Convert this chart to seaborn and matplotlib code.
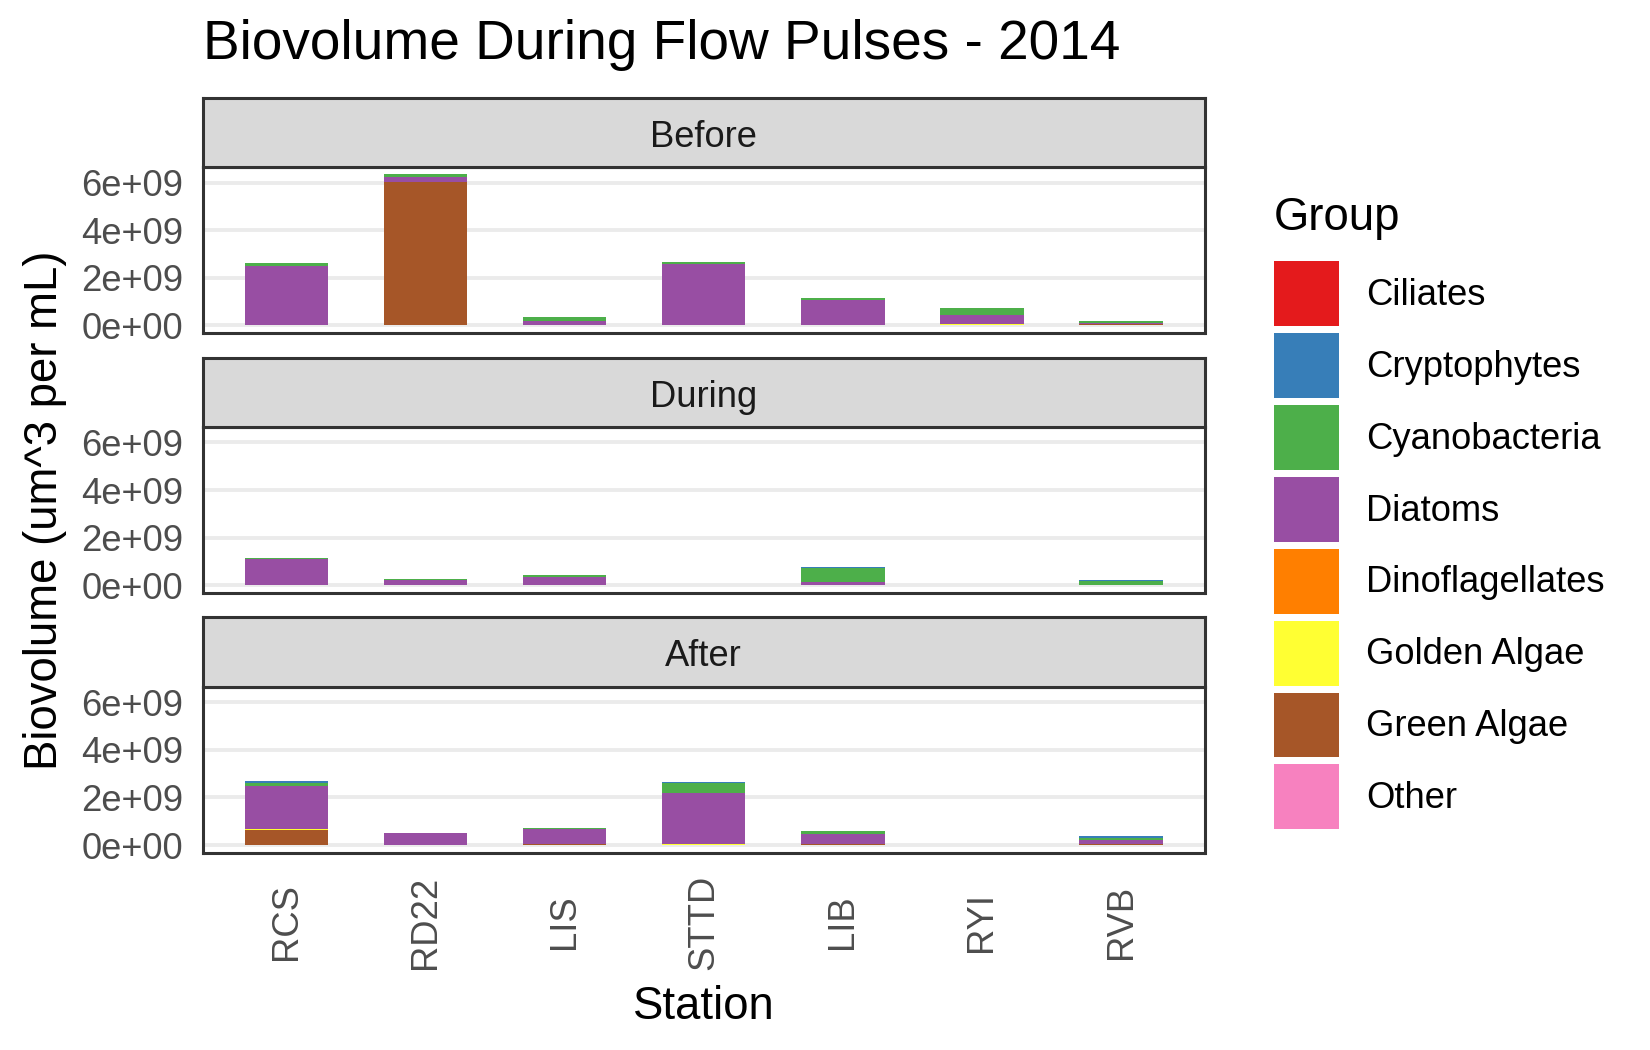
import pandas as pd
import seaborn as sns
import matplotlib
matplotlib.use("Agg")
import matplotlib.pyplot as plt
from matplotlib.patches import Patch

# 1. Estilo
sns.set_theme(style="white")
plt.rcParams["font.family"] = ["Liberation Sans", "DejaVu Sans"]
plt.rcParams["text.color"] = "black"

# 2. Dados (biovolume em 1e9 um^3 por mL, uma lista por grupo, um valor por estação)
stations = ["RCS", "RD22", "LIS", "STTD", "LIB", "RYI", "RVB"]
groups = ["Ciliates", "Cryptophytes", "Cyanobacteria", "Diatoms",
          "Dinoflagellates", "Golden Algae", "Green Algae", "Other"]
periods = ["Before", "During", "After"]
cores = ["#E41A1C", "#377EB8", "#4DAF4A", "#984EA3",
         "#FF7F00", "#FFFF33", "#A65628", "#F781BF"]

before = {
    "Cyanobacteria": [0.12, 0.09, 0.17, 0.08, 0.08, 0.30, 0.08],
    "Diatoms":       [2.49, 0.21, 0.19, 2.54, 1.04, 0.40, 0.07],
    "Golden Algae":  [0.00, 0.00, 0.00, 0.00, 0.00, 0.04, 0.00],
    "Green Algae":   [0.00, 6.04, 0.00, 0.03, 0.03, 0.00, 0.04],
}
during = {
    "Cryptophytes":  [0.00, 0.00, 0.00, 0.00, 0.04, 0.00, 0.03],
    "Cyanobacteria": [0.03, 0.04, 0.08, 0.00, 0.59, 0.00, 0.18],
    "Diatoms":       [1.11, 0.21, 0.34, 0.00, 0.13, 0.00, 0.00],
}
after = {
    "Cryptophytes":  [0.11, 0.00, 0.00, 0.04, 0.00, 0.00, 0.08],
    "Cyanobacteria": [0.10, 0.00, 0.04, 0.42, 0.13, 0.00, 0.09],
    "Diatoms":       [1.83, 0.51, 0.65, 2.17, 0.43, 0.00, 0.18],
    "Golden Algae":  [0.03, 0.00, 0.00, 0.03, 0.00, 0.00, 0.00],
    "Green Algae":   [0.63, 0.00, 0.03, 0.00, 0.03, 0.00, 0.03],
}

linhas = []
for periodo, tabela in zip(periods, [before, during, after]):
    for g, valores in tabela.items():
        for est, v in zip(stations, valores):
            linhas.append({"Period": periodo, "Station": est, "Group": g, "Value": v * 1e9})
df = pd.DataFrame(linhas)
df["Station"] = pd.Categorical(df["Station"], categories=stations)

paleta = dict(zip(groups, cores))
maximo = df.groupby(["Period", "Station"], observed=True)["Value"].sum().max()
ylim = (-0.05 * maximo, 1.05 * maximo)

# 3. Figura
fig = plt.figure(figsize=(16.5, 10.5), dpi=100)
esq, larg = 0.123, 0.607
topo, h_strip, h_ax, gap = 0.907, 0.066, 0.158, 0.0235
fs_small, fs_base, fs_title = 26.2, 32.8, 39.6
borda = "#333333"

for i, periodo in enumerate(periods):
    y_strip = topo - h_strip - i * (h_strip + h_ax + gap)
    y_ax = y_strip - h_ax

    ax = fig.add_axes([esq, y_ax, larg, h_ax])
    sns.histplot(data=df[df["Period"] == periodo], x="Station", hue="Group", weights="Value",
                 hue_order=groups, palette=paleta, multiple="stack", discrete=True,
                 shrink=0.6, linewidth=0, edgecolor="none", alpha=1, legend=False, ax=ax)
    ax.set_xlim(-0.6, len(stations) - 0.4)
    ax.set_ylim(*ylim)
    ax.set_axisbelow(True)
    ax.grid(False)
    ax.yaxis.grid(True, color="#EBEBEB", linewidth=2.8)
    ax.set_yticks([0, 2e9, 4e9, 6e9])
    ax.set_yticklabels([f"{v:.0e}" for v in [0, 2e9, 4e9, 6e9]])
    ax.set_xticks(range(len(stations)))
    ax.set_xlabel("")
    ax.set_ylabel("")
    for s in ax.spines.values():
        s.set_color(borda)
        s.set_linewidth(2.2)
    ax.tick_params(axis="both", colors=borda, length=6, width=2.2,
                   labelsize=fs_small, labelcolor="#4D4D4D", pad=8)
    if i == len(periods) - 1:
        ax.set_xticklabels(stations)
        plt.setp(ax.get_xticklabels(), rotation=90, va="center", ha="center")
        ax.tick_params(axis="x", pad=44)
    else:
        ax.set_xticklabels([])
        ax.tick_params(axis="x", length=0)

    ax_s = fig.add_axes([esq, y_strip, larg, h_strip])
    ax_s.set_facecolor("#D9D9D9")
    ax_s.set_xticks([])
    ax_s.set_yticks([])
    for s in ax_s.spines.values():
        s.set_color(borda)
        s.set_linewidth(2.2)
    ax_s.text(0.5, 0.43, periodo, ha="center", va="center", fontsize=fs_small,
              color="#1A1A1A", transform=ax_s.transAxes)

# 4. Textos
fig.text(esq, 0.957, "Biovolume During Flow Pulses - 2014", ha="left", va="center",
         fontsize=fs_title, color="black")
fig.text(esq + larg / 2, 0.041, "Station", ha="center", va="center", fontsize=fs_base)
fig.text(0.027, 0.514, "Biovolume (um^3 per mL)", rotation=90, ha="center", va="center",
         fontsize=fs_base)

# 5. Legenda
alcas = [Patch(facecolor=paleta[g], edgecolor="none") for g in groups]
leg = fig.legend(alcas, groups, title="Group", loc="upper left", bbox_to_anchor=(0.772, 0.813),
                 frameon=False, fontsize=fs_small, title_fontsize=fs_base, handlelength=1.79,
                 handleheight=2.37, labelspacing=0.19, handletextpad=0.75, borderpad=0,
                 borderaxespad=0, alignment="left", labelcolor="black")
leg._legend_box.sep = 15

fig.savefig("out.png", dpi=100)
